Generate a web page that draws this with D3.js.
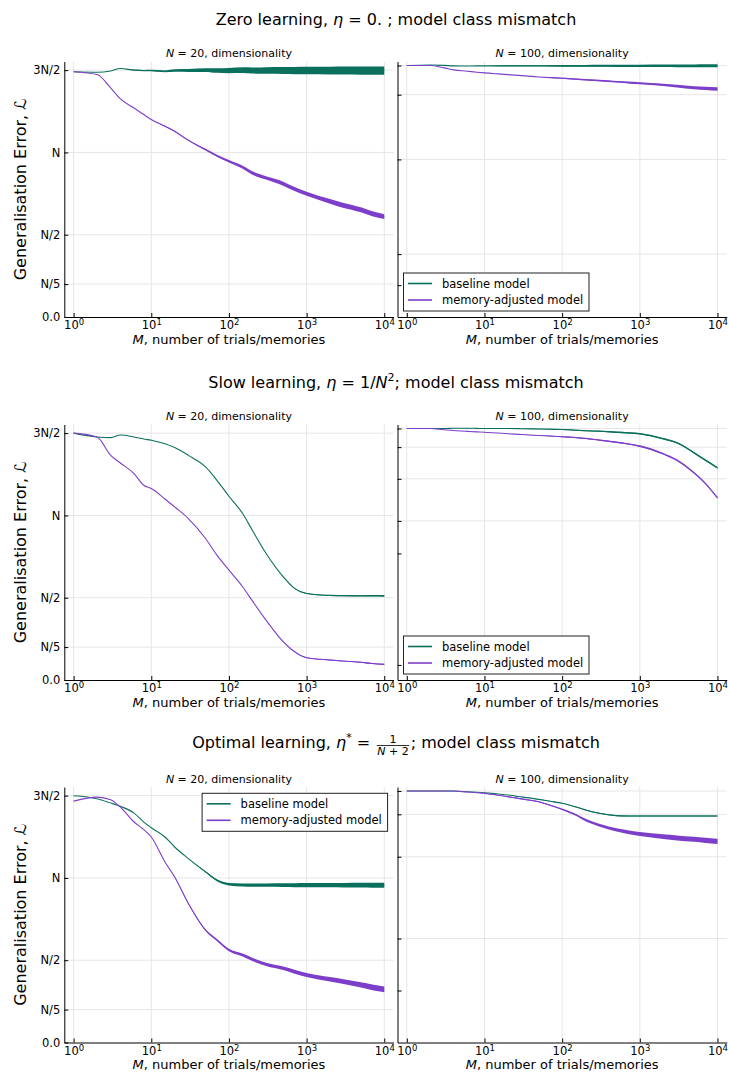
<!DOCTYPE html>
<html>
<head>
<meta charset="utf-8">
<script src="https://cdn.jsdelivr.net/npm/d3@7"></script>
<style>
  body { margin: 0; background: #fff; }
  text { font-family: "DejaVu Sans", sans-serif; fill: #000; }
</style>
</head>
<body>
<svg id="drawing_region"></svg>
<script>
// number of trials / memories (x) shared by every series
const trials = [1, 2, 3, 4, 6, 8, 10, 15, 20, 30, 50, 70, 100, 150, 200, 300, 500, 700, 1000, 2000, 3000, 5000, 7000, 10000];
const decades = [1, 10, 100, 1000, 10000];

// left panels, N = 20 (error in units of L)
const leftTicks = [0, 4, 10, 20, 30];
const leftTickLabels = ['0.0', 'N/5', 'N/2', 'N', '3N/2'];

// right panels, N = 100 (labels hidden in the original)
const zeroRightTicks = [150, 132.6, 94.0, 37.5, 19.0];
const zeroRightGrid = [150, 132.6, 94.0, 37.5];
const slowRightTicks = [150, 138.9, 120.0, 94.9, 75.5, 9.0];
const slowRightGrid = [150, 138.9, 120.0, 94.9];
const optRightTicks = [150, 136.1, 110.8, 62.0, 31.0];
const optRightGrid = [150, 136.1, 110.8, 62.0];

const seriesNames = ['baseline model', 'memory-adjusted model'];

// --- zero learning
const zero20Base = [29.8, 29.75, 29.9, 30.2, 30.0, 29.95, 29.95, 29.85, 29.95, 29.95, 30.0, 29.95, 29.95, 30.0, 29.95, 29.95, 29.95, 29.95, 29.95, 29.95, 29.95, 29.95, 29.95, 29.95];
const zero20BaseSpread = [0, 0, 0, 0, 0.05, 0.08, 0.1, 0.12, 0.15, 0.18, 0.22, 0.28, 0.32, 0.35, 0.37, 0.4, 0.42, 0.44, 0.45, 0.47, 0.48, 0.5, 0.5, 0.5];
const zero20Mem = [29.8, 29.47, 27.85, 26.5, 25.4, 24.6, 24.0, 23.18, 22.57, 21.47, 20.34, 19.6, 18.92, 18.2, 17.5, 16.9, 16.2, 15.55, 14.98, 14.05, 13.56, 13.03, 12.54, 12.2];
const zero20MemSpread = [0, 0, 0, 0, 0, 0, 0, 0.05, 0.05, 0.05, 0.1, 0.12, 0.15, 0.18, 0.2, 0.2, 0.25, 0.25, 0.25, 0.28, 0.3, 0.3, 0.3, 0.3];
const zero100Base = [150, 150.3, 150.1, 149.8, 149.7, 149.8, 149.8, 149.8, 149.8, 149.8, 149.8, 149.8, 149.8, 149.8, 149.8, 149.8, 149.8, 149.8, 149.8, 149.8, 149.8, 149.8, 149.8, 149.8];
const zero100BaseSpread = [0, 0, 0, 0, 0, 0, 0, 0.2, 0.3, 0.3, 0.3, 0.4, 0.5, 0.5, 0.55, 0.6, 0.65, 0.7, 0.7, 0.75, 0.8, 0.85, 0.9, 0.9];
const zero100Mem = [150, 150, 148.6, 147.4, 146.6, 146.0, 145.6, 145.0, 144.6, 144.0, 143.2, 142.8, 142.4, 141.9, 141.5, 141.0, 140.3, 139.9, 139.4, 138.5, 137.7, 136.8, 136.4, 136.0];
const zero100MemSpread = [0, 0, 0, 0, 0, 0, 0, 0, 0, 0, 0, 0.2, 0.3, 0.35, 0.4, 0.45, 0.5, 0.55, 0.6, 0.7, 0.8, 0.9, 1.0, 1.1];

// --- slow learning
const slow20Base = [30.0, 29.53, 29.45, 29.77, 29.53, 29.28, 29.13, 28.7, 28.24, 27.3, 25.9, 24.27, 22.33, 20.23, 18.2, 15.4, 12.54, 11.13, 10.52, 10.28, 10.25, 10.23, 10.23, 10.23];
const slow20BaseSpread = [0, 0, 0, 0, 0, 0, 0, 0, 0, 0, 0, 0, 0, 0, 0, 0, 0.03, 0.04, 0.05, 0.06, 0.07, 0.08, 0.09, 0.1];
const slow20Mem = [30.0, 29.53, 27.3, 26.37, 25.08, 23.67, 23.26, 22.0, 21.03, 19.62, 17.2, 15.17, 13.35, 11.33, 9.62, 7.28, 4.65, 3.43, 2.71, 2.43, 2.3, 2.15, 2.0, 1.9];
const slow20MemSpread = [0, 0, 0, 0, 0, 0, 0, 0, 0, 0, 0, 0, 0, 0, 0, 0, 0.02, 0.03, 0.04, 0.05, 0.05, 0.06, 0.06, 0.06];
const slow100Base = [150, 150, 150, 150.2, 150.2, 150.1, 150, 150, 150, 149.9, 149.7, 149.6, 149.4, 149.0, 148.7, 148.4, 147.8, 147.4, 146.9, 143.9, 141.5, 135.5, 131.1, 126.5];
const slow100BaseSpread = [0, 0, 0, 0, 0, 0, 0, 0, 0, 0.1, 0.15, 0.2, 0.25, 0.3, 0.3, 0.35, 0.4, 0.4, 0.45, 0.45, 0.5, 0.5, 0.5, 0.5];
const slow100Mem = [150, 150, 149.3, 148.8, 148.3, 148.0, 147.8, 147.3, 146.9, 146.4, 145.8, 145.5, 145.1, 144.6, 144.1, 143.1, 141.8, 140.8, 139.5, 134.9, 131.1, 123.5, 117.2, 108.6];
const slow100MemSpread = [0, 0, 0, 0, 0, 0, 0, 0, 0, 0.1, 0.15, 0.2, 0.25, 0.3, 0.3, 0.35, 0.4, 0.4, 0.45, 0.45, 0.5, 0.5, 0.5, 0.5];

// --- optimal learning
const opt20Base = [29.99, 29.62, 29.1, 28.7, 27.88, 26.79, 26.1, 24.97, 23.76, 22.35, 20.73, 19.72, 19.24, 19.15, 19.12, 19.12, 19.12, 19.12, 19.12, 19.12, 19.12, 19.12, 19.12, 19.12];
const opt20BaseSpread = [0, 0, 0, 0, 0, 0, 0, 0, 0, 0, 0.08, 0.12, 0.15, 0.18, 0.2, 0.2, 0.22, 0.24, 0.25, 0.26, 0.27, 0.28, 0.3, 0.3];
const opt20Mem = [29.33, 29.82, 29.5, 28.6, 26.8, 25.87, 24.97, 21.94, 20.12, 16.9, 13.66, 12.45, 11.24, 10.63, 10.1, 9.5, 9.02, 8.6, 8.2, 7.68, 7.4, 6.99, 6.7, 6.47];
const opt20MemSpread = [0, 0, 0, 0, 0, 0, 0, 0, 0.05, 0.08, 0.1, 0.12, 0.15, 0.18, 0.2, 0.2, 0.22, 0.24, 0.25, 0.28, 0.3, 0.32, 0.35, 0.35];
const opt100Base = [150, 150, 150, 150, 149.6, 149.3, 149.0, 148.2, 147.6, 146.5, 145.0, 143.9, 142.7, 140.5, 138.7, 136.7, 135.3, 135.1, 135.1, 135.1, 135.1, 135.1, 135.1, 135.1];
const opt100BaseSpread = [0, 0, 0, 0, 0, 0, 0, 0, 0, 0, 0.1, 0.15, 0.2, 0.2, 0.25, 0.3, 0.3, 0.3, 0.35, 0.35, 0.35, 0.35, 0.35, 0.35];
const opt100Mem = [150, 150, 150, 150, 149.4, 149.0, 148.6, 147.5, 146.6, 145.3, 143.6, 141.5, 139.1, 135.8, 132.7, 129.7, 126.8, 125.5, 124.4, 122.8, 122.0, 121.2, 120.6, 120.0];
const opt100MemSpread = [0, 0, 0, 0, 0, 0, 0.1, 0.2, 0.3, 0.3, 0.3, 0.3, 0.35, 0.5, 0.7, 0.8, 1.0, 1.1, 1.2, 1.35, 1.45, 1.5, 1.6, 1.6];

const colors = ['#0a705d', '#7d3fca'];

function zipSeries(values, spread) {
    return trials.map((m, i) => ({ m: m, v: values[i], s: spread[i] }));
}

class ErrorPanel {
    constructor( config, series ) {
        this.config = {
            svg: config.svg,
            x0: config.x0,
            x1: config.x1,
            top: config.top,
            bottom: config.bottom,
            ymax: config.ymax,
            yticks: config.yticks,
            ygrid: config.ygrid,
            ylabels: config.ylabels || null,
            n: config.n,
            ylabel: config.ylabel || false,
            legend: config.legend || null
        };
        this.series = series;
        this.init();
    }
    init() {
        let self = this;
        let c = self.config;
        self.g = c.svg.append('g');
        self.xscale = d3.scaleLog()
            .domain([Math.pow(10, -0.12), Math.pow(10, 4.12)])
            .range([c.x0, c.x1]);
        self.yscale = d3.scaleLinear()
            .domain([0, c.ymax])
            .range([c.bottom, c.top]);
    }
    render() {
        let self = this;
        let c = self.config;

        // grid
        self.g.append('g').selectAll('line')
            .data(decades).join('line')
            .attr('x1', d => self.xscale(d)).attr('x2', d => self.xscale(d))
            .attr('y1', c.top).attr('y2', c.bottom)
            .attr('stroke', '#e6e6e6').attr('stroke-width', 1);
        self.g.append('g').selectAll('line')
            .data(c.ygrid).join('line')
            .attr('x1', c.x0).attr('x2', c.x1)
            .attr('y1', d => self.yscale(d)).attr('y2', d => self.yscale(d))
            .attr('stroke', '#e6e6e6').attr('stroke-width', 1);

        // series (band = spread of the noisy trace)
        self.series.forEach( (s, i) => {
            const area = d3.area()
                .curve(d3.curveMonotoneX)
                .x(d => self.xscale(d.m))
                .y0(d => self.yscale(d.v - d.s))
                .y1(d => self.yscale(d.v + d.s));
            const line = d3.line()
                .curve(d3.curveMonotoneX)
                .x(d => self.xscale(d.m))
                .y(d => self.yscale(d.v));
            self.g.append('path')
                .attr('d', area(s))
                .attr('fill', colors[i]);
            self.g.append('path')
                .attr('d', line(s))
                .attr('fill', 'none')
                .attr('stroke', colors[i])
                .attr('stroke-width', 1.1);
        });

        // axes
        const yaxis = d3.axisLeft(self.yscale)
            .tickValues(c.yticks)
            .tickSize(-4)
            .tickSizeOuter(0)
            .tickPadding(4)
            .tickFormat((d, i) => c.ylabels ? c.ylabels[i] : '');
        const yg = self.g.append('g')
            .attr('transform', `translate(${c.x0},0)`)
            .call(yaxis);
        yg.attr('font-family', null).attr('font-size', null);
        yg.selectAll('text').attr('font-size', '11.5px');

        const xaxis = d3.axisBottom(self.xscale)
            .tickValues(decades)
            .tickSize(-4)
            .tickSizeOuter(0)
            .tickPadding(4)
            .tickFormat(() => '10');
        const xg = self.g.append('g')
            .attr('transform', `translate(0,${c.bottom})`)
            .call(xaxis);
        xg.attr('font-family', null).attr('font-size', null);
        xg.selectAll('text').attr('font-size', '11.5px')
            .append('tspan')
            .attr('dy', '-0.45em')
            .attr('font-size', '8.5px')
            .text(d => Math.round(Math.log10(d)));
        [yg, xg].forEach(a => {
            a.select('.domain').attr('stroke', '#000').attr('stroke-width', 1);
            a.selectAll('.tick line').attr('stroke', '#000');
        });

        const cx = (c.x0 + c.x1) / 2;
        // subtitle
        const st = self.g.append('text')
            .attr('x', cx).attr('y', c.top - 4.5)
            .attr('text-anchor', 'middle')
            .attr('font-size', '11px');
        st.append('tspan').attr('font-style', 'italic').text('N');
        st.append('tspan').text(` = ${c.n}, dimensionality`);

        // x label
        const xl = self.g.append('text')
            .attr('x', cx).attr('y', c.bottom + 26.5)
            .attr('text-anchor', 'middle')
            .attr('font-size', '13px');
        xl.append('tspan').attr('font-style', 'italic').text('M');
        xl.append('tspan').text(', number of trials/memories');

        if (c.ylabel) {
            self.g.append('text')
                .attr('transform', `translate(26,${(c.top + c.bottom) / 2}) rotate(-90)`)
                .attr('text-anchor', 'middle')
                .attr('font-size', '16px')
                .text('Generalisation Error, \u2112');
        }

        if (c.legend) {
            const lg = self.g.append('g')
                .attr('transform', `translate(${c.legend.x},${c.legend.y})`);
            lg.append('rect')
                .attr('width', 185.5).attr('height', 38)
                .attr('fill', '#fff').attr('stroke', '#222').attr('stroke-width', 1);
            seriesNames.forEach( (name, i) => {
                const yy = 10.5 + i * 16.5;
                lg.append('line')
                    .attr('x1', 4.5).attr('x2', 28.5)
                    .attr('y1', yy).attr('y2', yy)
                    .attr('stroke', colors[i]).attr('stroke-width', 1.6);
                lg.append('text')
                    .attr('x', 38.5).attr('y', yy + 4.2)
                    .attr('font-size', '11.5px')
                    .text(name);
            });
        }
    }
}

function drawTitle(svg, pieces, cx, baseline) {
    const g = svg.append('g');
    let x = 0;
    pieces.forEach(p => {
        if (p.frac) {
            const fg = g.append('g').attr('transform', `translate(${x + 1},0)`);
            const num = fg.append('text').attr('font-size', '11px').attr('text-anchor', 'middle').text(p.frac[0]);
            const den = fg.append('text').attr('font-size', '11px').attr('text-anchor', 'middle');
            den.append('tspan').attr('font-style', 'italic').text('N');
            den.append('tspan').text(p.frac[1]);
            const w = Math.max(num.node().getComputedTextLength(), den.node().getComputedTextLength()) + 2;
            num.attr('x', w / 2).attr('y', -5.2);
            den.attr('x', w / 2).attr('y', 6.6);
            fg.append('line')
                .attr('x1', 0.5).attr('x2', w - 0.5)
                .attr('y1', -2.9).attr('y2', -2.9)
                .attr('stroke', '#000').attr('stroke-width', 0.8);
            x += w + 2;
        } else {
            const t = g.append('text')
                .attr('x', x)
                .attr('y', p.sup ? -7 : 0)
                .attr('font-size', p.sup ? '11px' : '16px')
                .attr('font-style', p.it ? 'italic' : null)
                .style('white-space', 'pre')
                .text(p.t);
            x += t.node().getComputedTextLength();
        }
    });
    g.attr('transform', `translate(${cx - x / 2},${baseline})`);
}

const svg = d3.select('#drawing_region')
    .attr('width', 729)
    .attr('height', 1077);
svg.append('rect').attr('width', 729).attr('height', 1077).attr('fill', '#fff');

const leftX = [64.3, 393.6];
const rightX = [397.5, 726.8];
const rows = [
    { top: 61.5, bottom: 317, title: 25,
      pieces: [{t: 'Zero learning, '}, {t: '\u03b7', it: true}, {t: ' = 0. ; model class mismatch'}],
      left: [zipSeries(zero20Base, zero20BaseSpread), zipSeries(zero20Mem, zero20MemSpread)],
      right: [zipSeries(zero100Base, zero100BaseSpread), zipSeries(zero100Mem, zero100MemSpread)],
      rticks: zeroRightTicks, rgrid: zeroRightGrid, legendSide: 'right' },
    { top: 424.5, bottom: 680, title: 388,
      pieces: [{t: 'Slow learning, '}, {t: '\u03b7', it: true}, {t: ' = 1/'}, {t: 'N', it: true}, {t: '2', sup: true}, {t: '; model class mismatch'}],
      left: [zipSeries(slow20Base, slow20BaseSpread), zipSeries(slow20Mem, slow20MemSpread)],
      right: [zipSeries(slow100Base, slow100BaseSpread), zipSeries(slow100Mem, slow100MemSpread)],
      rticks: slowRightTicks, rgrid: slowRightGrid, legendSide: 'right' },
    { top: 787, bottom: 1042.5, title: 748.4,
      pieces: [{t: 'Optimal learning, '}, {t: '\u03b7', it: true}, {t: '*', sup: true}, {t: ' = '}, {frac: ['1', ' + 2']}, {t: '; model class mismatch'}],
      left: [zipSeries(opt20Base, opt20BaseSpread), zipSeries(opt20Mem, opt20MemSpread)],
      right: [zipSeries(opt100Base, opt100BaseSpread), zipSeries(opt100Mem, opt100MemSpread)],
      rticks: optRightTicks, rgrid: optRightGrid, legendSide: 'left' }
];

rows.forEach(r => {
    drawTitle(svg, r.pieces, 396, r.title);
    const leftPanel = new ErrorPanel({
        svg: svg, x0: leftX[0], x1: leftX[1], top: r.top, bottom: r.bottom,
        ymax: 31.05, yticks: leftTicks, ygrid: leftTicks.slice(1), ylabels: leftTickLabels,
        n: 20, ylabel: true,
        legend: r.legendSide === 'left' ? { x: leftX[1] - 191.5, y: r.top + 6.3 } : null
    }, r.left);
    leftPanel.render();
    const rightPanel = new ErrorPanel({
        svg: svg, x0: rightX[0], x1: rightX[1], top: r.top, bottom: r.bottom,
        ymax: 152.4, yticks: r.rticks, ygrid: r.rgrid,
        n: 100,
        legend: r.legendSide === 'right' ? { x: rightX[0] + 6, y: r.bottom - 44 } : null
    }, r.right);
    rightPanel.render();
});
</script>
</body>
</html>
